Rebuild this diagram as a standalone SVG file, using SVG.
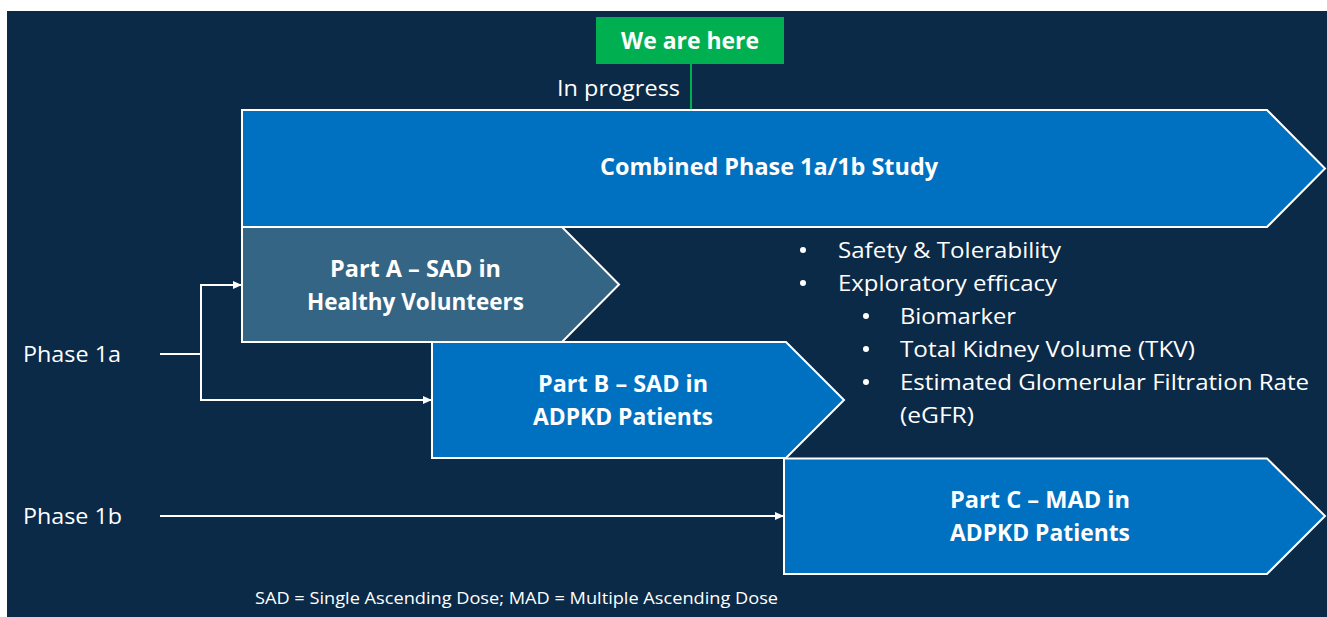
<svg xmlns="http://www.w3.org/2000/svg" width="1327" height="617" viewBox="0 0 1327 617">
<defs>
<style>
.bg{fill:#0b2a47}
.shape{stroke:#ffffff;stroke-width:2}
.blue{fill:#0070c0}
.slate{fill:#346585}
.b{font-family:"Open Sans","Liberation Sans",sans-serif;font-weight:bold;fill:#ffffff;font-size:24px;text-anchor:middle}
.t{font-family:"Open Sans","Liberation Sans",sans-serif;fill:#ffffff;font-size:22px}
.dot{fill:#ffffff}
.conn{stroke:#ffffff;stroke-width:2;fill:none}
</style>
<marker id="ah" markerWidth="10" markerHeight="10" refX="9" refY="5" orient="auto" markerUnits="userSpaceOnUse">
<path d="M0,1 L9,5 L0,9 Z" fill="#ffffff"/>
</marker>
</defs>
<rect x="0" y="0" width="1327" height="617" fill="#ffffff"/>
<rect class="bg" x="7" y="11" width="1320" height="606"/>

<g id="we-are-here">
<rect x="596" y="17" width="188" height="47" fill="#00b050"/>
<text class="b" x="690" y="49" textLength="138" lengthAdjust="spacingAndGlyphs">We are here</text>
<line x1="691" y1="64" x2="691" y2="110" stroke="#00b050" stroke-width="2"/>
</g>
<g id="in-progress">
<text class="t" x="557" y="96" textLength="123" lengthAdjust="spacingAndGlyphs">In progress</text>
</g>

<g id="combined">
<path class="shape blue" d="M242,110 L1267,110 L1325,168.5 L1267,227 L242,227 Z"/>
<text class="b" x="769" y="175" textLength="338" lengthAdjust="spacingAndGlyphs">Combined Phase 1a/1b Study</text>
</g>

<g id="part-a">
<path class="shape slate" d="M242,227 L562,227 L619,284.5 L562,342 L242,342 Z"/>
<text class="b" x="415.5" y="277" textLength="171" lengthAdjust="spacingAndGlyphs">Part A – SAD in</text>
<text class="b" x="415.5" y="310" textLength="217" lengthAdjust="spacingAndGlyphs">Healthy Volunteers</text>
</g>

<g id="part-b">
<path class="shape blue" d="M432,342 L786,342 L844,400 L786,458 L432,458 Z"/>
<text class="b" x="623" y="392" textLength="170" lengthAdjust="spacingAndGlyphs">Part B – SAD in</text>
<text class="b" x="623" y="425" textLength="180" lengthAdjust="spacingAndGlyphs">ADPKD Patients</text>
</g>

<g id="part-c">
<path class="shape blue" d="M784,458.5 L1267,458.5 L1325,516 L1267,574 L784,574 Z"/>
<text class="b" x="1040" y="508" textLength="180" lengthAdjust="spacingAndGlyphs">Part C – MAD in</text>
<text class="b" x="1040" y="541" textLength="180" lengthAdjust="spacingAndGlyphs">ADPKD Patients</text>
</g>

<g id="objectives">
<circle class="dot" cx="803" cy="250" r="3"/>
<text class="t" x="838" y="258" textLength="223" lengthAdjust="spacingAndGlyphs">Safety &amp; Tolerability</text>
<circle class="dot" cx="803" cy="283" r="3"/>
<text class="t" x="838" y="291" textLength="219" lengthAdjust="spacingAndGlyphs">Exploratory efficacy</text>
<circle class="dot" cx="866" cy="316" r="3"/>
<text class="t" x="900" y="324" textLength="116" lengthAdjust="spacingAndGlyphs">Biomarker</text>
<circle class="dot" cx="866" cy="349" r="3"/>
<text class="t" x="900" y="357" textLength="295" lengthAdjust="spacingAndGlyphs">Total Kidney Volume (TKV)</text>
<circle class="dot" cx="866" cy="382" r="3"/>
<text class="t" x="900" y="390" textLength="409" lengthAdjust="spacingAndGlyphs">Estimated Glomerular Filtration Rate</text>
<text class="t" x="900" y="423" textLength="74" lengthAdjust="spacingAndGlyphs">(eGFR)</text>
</g>

<g id="phase-1a">
<text class="t" x="23" y="362" textLength="98" lengthAdjust="spacingAndGlyphs">Phase 1a</text>
</g>
<g id="phase-1b">
<text class="t" x="23" y="524" textLength="99" lengthAdjust="spacingAndGlyphs">Phase 1b</text>
</g>

<g id="connectors">
<path class="conn" d="M160,354 L201,354"/>
<path class="conn" d="M201,400 L201,285 L242,285" marker-end="url(#ah)"/>
<path class="conn" d="M201,354 L201,400 L432,400" marker-end="url(#ah)"/>
<path class="conn" d="M160,516 L784,516" marker-end="url(#ah)"/>
</g>

<g id="footnote">
<text class="t" x="255" y="604" style="font-size:17px" textLength="523" lengthAdjust="spacingAndGlyphs">SAD = Single Ascending Dose; MAD = Multiple Ascending Dose</text>
</g>
</svg>
